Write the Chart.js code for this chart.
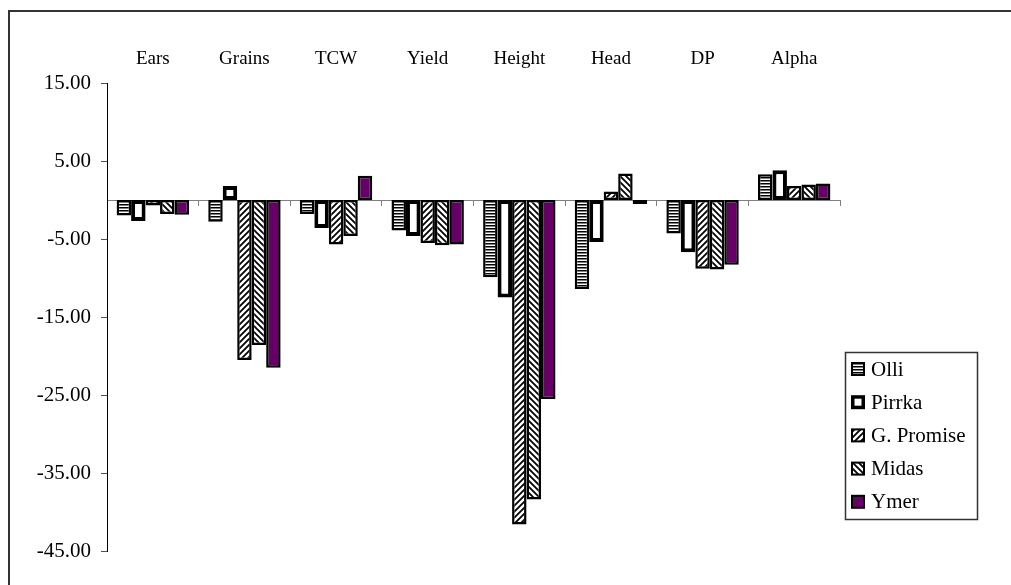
<!DOCTYPE html>
<html>
<head>
<meta charset="utf-8">
<script src="https://cdn.jsdelivr.net/npm/chart.js@4"></script>
<style>
  html, body { margin: 0; padding: 0; background: #fff; }
</style>
</head>
<body>
<canvas id="chart" width="1011" height="585"></canvas>
<script>
const categories = ['Ears', 'Grains', 'TCW', 'Yield', 'Height', 'Head', 'DP', 'Alpha'];
const seriesNames = ['Olli', 'Pirrka', 'G. Promise', 'Midas', 'Ymer'];
const olli     = [-2.0, -2.8, -1.8, -3.9,  -9.9, -11.4, -4.3, 3.3];
const pirrka   = [-2.7,  1.8, -3.6, -4.6, -12.5,  -5.4, -6.7, 3.8];
const gPromise = [-0.7, -20.5, -5.7, -5.5, -41.6,  1.1, -8.8, 1.8];
const midas    = [-1.8, -18.6, -4.6, -5.8, -38.4,  3.4, -8.9, 2.0];
const ymer     = [-1.9, -21.5,  3.1, -5.7, -25.5, -0.5, -8.3, 2.1];
const yTicks = [15, 5, -5, -15, -25, -35, -45];

const family = '"Liberation Serif", "Times New Roman", serif';
const catFont = { family: family, size: 19 };
const tickFont = { family: family, size: 21 };
const legendSize = 21;

// little tiles for the hatched fills
function makePattern(kind) {
  const c = document.createElement('canvas');
  const ctx = c.getContext('2d');
  if (kind === 'hlines') {
    c.width = 4; c.height = 3;
    ctx.fillStyle = '#fff';
    ctx.fillRect(0, 0, 4, 3);
    ctx.fillStyle = '#000';
    ctx.fillRect(0, 0, 4, 1.5);
  } else {
    c.width = 6; c.height = 6;
    ctx.fillStyle = '#fff';
    ctx.fillRect(0, 0, 6, 6);
    ctx.strokeStyle = '#000';
    ctx.lineWidth = 1.8;
    ctx.beginPath();
    if (kind === 'fwd') {
      ctx.moveTo(-1, 7); ctx.lineTo(7, -1);
      ctx.moveTo(-1, 1); ctx.lineTo(1, -1);
      ctx.moveTo(5, 7); ctx.lineTo(7, 5);
    } else {
      ctx.moveTo(-1, -1); ctx.lineTo(7, 7);
      ctx.moveTo(-1, 5); ctx.lineTo(1, 7);
      ctx.moveTo(5, -1); ctx.lineTo(7, 1);
    }
    ctx.stroke();
  }
  return ctx.createPattern(c, 'repeat');
}

const fills = [makePattern('hlines'), '#fff', makePattern('fwd'), makePattern('back'), '#660066'];
const borders = [2.5, 4, 2.5, 2.5, 2.5];
const values = [olli, pirrka, gPromise, midas, ymer];

const datasets = seriesNames.map((name, i) => ({
  label: name,
  data: values[i],
  backgroundColor: fills[i],
  borderColor: '#000',
  borderWidth: borders[i],
  borderSkipped: false,
  categoryPercentage: 0.79,
  barPercentage: 1.0,
  xAxisID: 'x',
  yAxisID: 'y'
}));

// outer frame of the picture
const framePlugin = {
  id: 'frame',
  beforeDraw(chart) {
    const ctx = chart.ctx;
    ctx.save();
    ctx.strokeStyle = '#333';
    ctx.lineWidth = 2;
    ctx.beginPath();
    ctx.moveTo(9, chart.height);
    ctx.lineTo(9, 11);
    ctx.lineTo(chart.width, 11);
    ctx.stroke();
    ctx.restore();
  }
};

// boxed legend sitting at the lower right
const boxLegend = {
  id: 'boxLegend',
  afterDraw(chart) {
    const ctx = chart.ctx;
    const area = chart.chartArea;
    const left = area.right + 5;
    const top = area.top + 269;
    const w = 132, h = 167;
    ctx.save();
    ctx.fillStyle = '#fff';
    ctx.fillRect(left, top, w, h);
    ctx.strokeStyle = '#333';
    ctx.lineWidth = 1.5;
    ctx.strokeRect(left + 0.5, top + 0.5, w, h);
    ctx.font = legendSize + 'px ' + family;
    ctx.textBaseline = 'middle';
    ctx.textAlign = 'left';
    chart.data.datasets.forEach((ds, i) => {
      const cy = top + 17 + i * 33.2;
      const sx = left + 6, sy = cy - 7;
      ctx.fillStyle = '#000';
      ctx.fillRect(sx, sy, 14, 14);
      const inset = i === 1 ? 3.5 : 2;
      ctx.fillStyle = ds.backgroundColor;
      ctx.fillRect(sx + inset, sy + inset, 14 - inset * 2, 14 - inset * 2);
      ctx.fillStyle = '#000';
      ctx.fillText(ds.label, left + 26, cy + 1);
    });
    ctx.restore();
  }
};

new Chart(document.getElementById('chart'), {
  type: 'bar',
  data: { labels: categories, datasets: datasets },
  options: {
    responsive: false,
    animation: false,
    layout: { padding: { left: 0, top: 10, right: 171, bottom: 34 } },
    plugins: {
      legend: { display: false },
      tooltip: { enabled: false }
    },
    scales: {
      xTop: {
        type: 'category',
        position: 'top',
        labels: categories,
        offset: true,
        grid: { display: false },
        border: { display: false },
        ticks: { font: catFont, color: '#000', padding: 5, maxRotation: 0 },
        afterFit(s) { s.height = 73; }
      },
      x: {
        type: 'category',
        position: { y: 0 },
        offset: true,
        grid: { offset: true, drawOnChartArea: false, tickLength: 5, color: '#808080' },
        border: { color: '#808080', width: 1 },
        ticks: { display: false }
      },
      y: {
        min: -45,
        max: 15,
        afterBuildTicks(s) { s.ticks = yTicks.map(v => ({ value: v })); },
        afterFit(s) { s.width = 107; },
        grid: { drawOnChartArea: false, tickLength: 6, color: '#555' },
        border: { color: '#000', width: 1 },
        ticks: { font: tickFont, color: '#000', padding: 10, callback: v => v.toFixed(2) }
      }
    }
  },
  plugins: [framePlugin, boxLegend]
});
</script>
</body>
</html>
